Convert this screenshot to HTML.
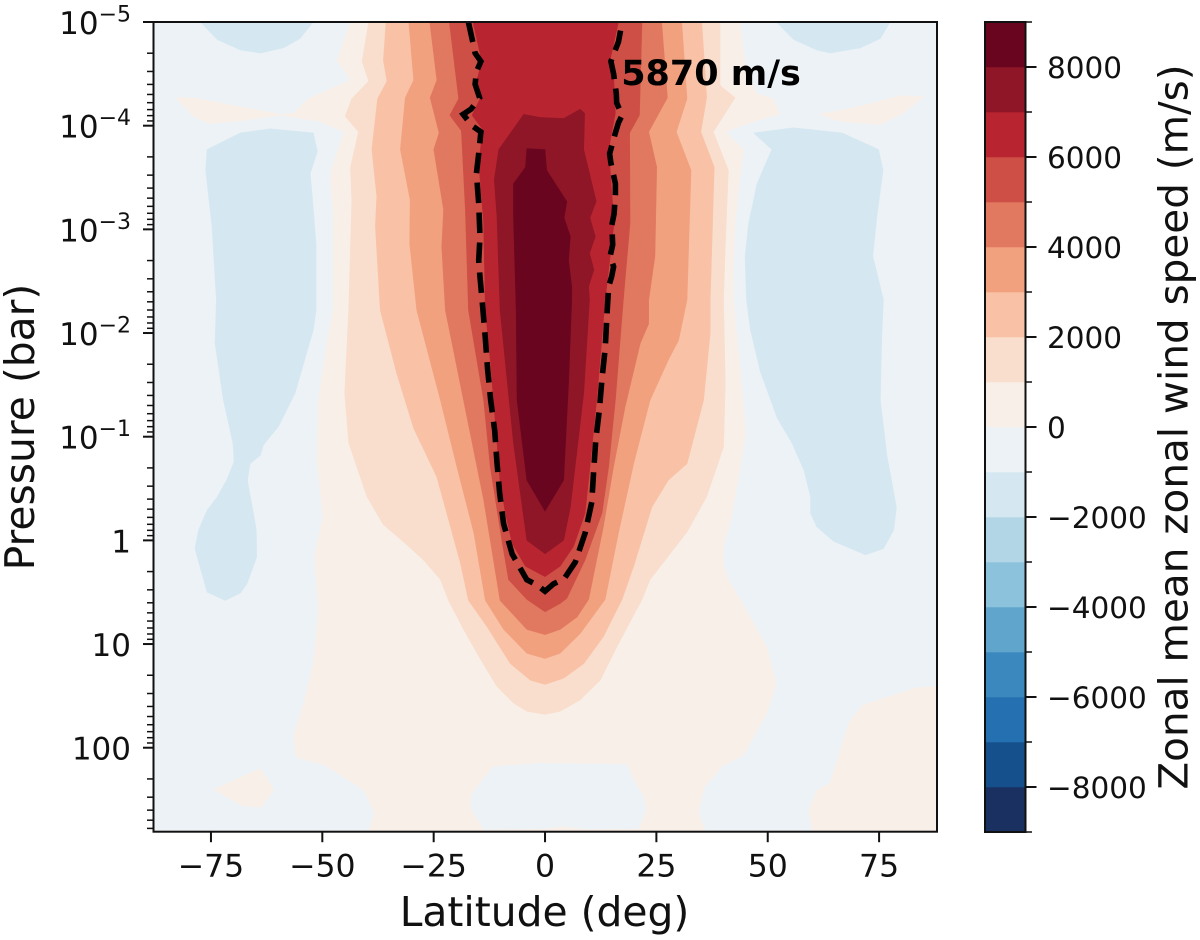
<!DOCTYPE html>
<html lang="en">
<head>
<meta charset="utf-8">
<title>Zonal mean zonal wind speed</title>
<style>
html,body{margin:0;padding:0;background:#fff;width:1200px;height:940px;overflow:hidden}
svg{display:block;font-family:"DejaVu Sans","Liberation Sans",sans-serif}
</style>
</head>
<body>
<svg id="chart" xmlns="http://www.w3.org/2000/svg" width="1200" height="940" viewBox="0 0 1200 940"></svg>
<script>
// Data: every contour vertex is [latitude in degrees, log10(pressure in bar)]
const levels = [-9000,-8000,-7000,-6000,-5000,-4000,-3000,-2000,-1000,0,1000,2000,3000,4000,5000,6000,7000,8000,9000];
const latTicks = [-75,-50,-25,0,25,50,75];
const pressureDecades = [-5,-4,-3,-2,-1,0,1,2];
const colorbarTicks = [-8000,-6000,-4000,-2000,0,2000,4000,6000,8000];
const contourLabel = "5870 m/s";
const contourLabelLat = 17.1;
const contourLabelLogP = -4.39;

const contourZero = [[-43.7,-5],[-46.7,-4.63],[-43.7,-4.44],[-53.1,-4.26],[-56.5,-4.12],[-59.5,-4.11],[-70.7,-4.20],[-78.9,-4.27],[-83,-4.27],[-78.9,-4.09],[-75.5,-4.02],[-67.7,-4.05],[-59.5,-4.10],[-50.5,-4.04],[-45.1,-3.94],[-48,-3.57],[-48.2,-3.44],[-47.6,-3.19],[-47.6,-2.22],[-49,-1.90],[-50.9,-1.35],[-51.2,-.77],[-49.9,-.23],[-51.8,.16],[-51,.58],[-50.9,.70],[-52,1.19],[-54.2,1.57],[-56.5,1.89],[-55.9,2.09],[-49.4,2.17],[-40.7,2.41],[-38.3,2.63],[-39.6,2.81],[36,2.81],[34.5,2.63],[35.6,2.39],[39.7,2.18],[44.6,2.07],[49.8,1.67],[51.9,1.38],[49.8,1.03],[43.8,.57],[41.2,.38],[40.1,.25],[40.1,.06],[41.9,-.23],[45.1,-1.03],[43.8,-1.67],[42.3,-2.32],[42.3,-2.61],[42.7,-3.06],[43.8,-3.51],[44.6,-3.77],[40.5,-3.94],[46.8,-4.04],[52.8,-4.11],[51.3,-4.26],[47.6,-4.31],[45.3,-4.50],[44.6,-4.70],[43.7,-5]];
const contourZeroTongueRight = [[61.4,-4.11],[70,-4.18],[79.8,-4.29],[85,-4.28],[80.5,-4.12],[75.3,-4.01],[66.3,-4.04]];
const contourZeroIslandLeft = [[-74.4,2.40],[-63.9,2.20],[-60.9,2.40],[-63.6,2.575],[-68.1,2.56]];
const contourZeroCornerRight = [[60,2.81],[59.2,2.60],[61,2.41],[64,2.34],[68.2,1.76],[71.2,1.59],[83.5,1.42],[88,1.41],[88,2.81]];
const neutralPatchCenter = [[-11.6,2.18],[-16.4,2.44],[-16.8,2.57],[-13.8,2.79],[0,2.78],[4.2,2.755],[8.7,2.785],[21,2.78],[22.7,2.60],[22.1,2.47],[19.5,2.28],[18.4,2.16],[-1.1,2.15]];

const contourNegTopLeft = [[-77.4,-5],[-73.6,-4.83],[-68.4,-4.73],[-63.9,-4.70],[-58.7,-4.75],[-55,-4.84],[-52,-5]];
const contourNegTopRight = [[51.9,-5],[55.8,-4.83],[61,-4.73],[64,-4.70],[70.8,-4.75],[75.3,-4.84],[77.5,-5]];
const contourNegLeft = [[-75.9,-3.77],[-68.4,-3.93],[-61.7,-3.97],[-52,-3.93],[-51.1,-3.75],[-52.7,-3.54],[-52,-3.19],[-51.4,-2.86],[-51.4,-2.22],[-52,-2.03],[-56.1,-1.42],[-59.8,-1.10],[-63.2,-.92],[-63.9,-.82],[-66.2,-.74],[-66.8,-.58],[-64.8,-.10],[-64.7,.16],[-66.9,.42],[-68.4,.51],[-71.8,.58],[-75.9,.50],[-78.6,.08],[-77.8,-.10],[-75.9,-.29],[-73.6,-.42],[-71.5,-.58],[-69.8,-.76],[-70.1,-.94],[-72.2,-1.35],[-74.1,-1.90],[-73.8,-2.32],[-74.8,-3.03],[-76.2,-3.57]];
const contourNegRight = [[46.8,-3.93],[55.8,-3.98],[66.7,-3.93],[74.9,-3.77],[75.9,-3.57],[74.5,-3.12],[73.6,-2.74],[76,-2.32],[75.6,-1.96],[75.3,-1.35],[76.8,-.81],[78.9,-.32],[78.3,-.10],[76,.08],[71.9,.14],[64.8,.01],[61,-.13],[59.6,-.26],[59.6,-.42],[58.1,-.68],[55.4,-.94],[52.1,-1.18],[48.3,-1.63],[46.1,-2.03],[45.2,-2.32],[44.9,-2.74],[45.7,-3.06],[47.6,-3.44],[50.9,-3.77]];

const contour1000 = [[-39.6,-5],[-41.1,-4.62],[-39.6,-4.43],[-43.4,-4.26],[-44.9,-4.09],[-41.9,-3.94],[-43.7,-3.60],[-43.4,-3.28],[-44.1,-2.22],[-45,-1.42],[-44.1,-.94],[-40,-.42],[-36.3,-.15],[-31,.045],[-27.3,.19],[-23.5,.38],[-21.7,.58],[-18.3,.86],[-14.6,1.14],[-10.8,1.41],[-7.1,1.57],[-4.1,1.65],[0,1.68],[3.4,1.65],[7.9,1.54],[12.4,1.35],[16.5,1.0],[21.8,.57],[23.6,.38],[31.9,-.08],[36.3,-.42],[40.1,-.90],[40.5,-1.51],[40.1,-2.32],[40.5,-2.86],[41.2,-3.57],[37.8,-3.94],[42.7,-4.27],[39.3,-4.39],[39.3,-5]];
const contour2000 = [[-35.7,-5],[-36.3,-4.63],[-35.5,-4.43],[-37.6,-4.26],[-38.9,-3.77],[-37.8,-3.32],[-38.1,-3.03],[-37,-2.22],[-33.3,-1.61],[-29.5,-1.08],[-24.3,-.61],[-19,.22],[-17.2,.58],[-13.1,.83],[-7.8,1.19],[-3.3,1.35],[0,1.39],[4.2,1.33],[8.7,1.19],[13.1,.93],[17.3,.57],[19.9,.25],[24,-.32],[27.7,-.58],[31.9,-.74],[35.6,-1.35],[37.1,-2.0],[37.1,-2.32],[38,-3.60],[35,-3.94],[36.3,-4.27],[35.2,-5]];
const contour3000 = [[-30.6,-5],[-29.5,-4.44],[-31.4,-4.27],[-32.5,-3.77],[-30.3,-3.28],[-30.4,-2.86],[-28.8,-2.22],[-23.5,-1.35],[-19.8,-.71],[-16,-.07],[-13.4,.58],[-9.3,.86],[-4.1,1.09],[0,1.14],[3.4,1.09],[7.9,.90],[13.5,.57],[16.5,-.07],[19.9,-.74],[23.6,-1.35],[27.7,-1.74],[30,-1.93],[31.9,-2.32],[32.8,-3.57],[29.5,-3.94],[31.9,-4.26],[30.7,-5]];
const contour4000 = [[-25.9,-5],[-24.3,-4.44],[-25.8,-4.27],[-23.8,-3.93],[-25,-3.77],[-22.8,-3.19],[-23.2,-2.83],[-22.4,-2.22],[-18.3,-1.35],[-13.8,-.39],[-10.1,.58],[-4.1,.86],[0,.91],[3.4,.86],[7.2,.74],[9.8,.57],[13.1,-.13],[15.4,-.71],[18,-1.29],[21.4,-1.90],[23.3,-2.09],[23.3,-2.32],[24.7,-2.74],[25.1,-3.60],[23.3,-3.94],[27.5,-4.27],[26.2,-5]];
const contour5000 = [[-21.5,-5],[-19.4,-4.26],[-21.4,-4.10],[-18.8,-3.95],[-17.9,-3.19],[-17.2,-2.22],[-13.8,-1.35],[-12.3,-.71],[-9.7,0],[-8.2,.38],[-4.1,.57],[0,.69],[3.4,.61],[4.9,.56],[9,.19],[12.8,-.26],[14.3,-.71],[15.8,-1.35],[17.6,-2.32],[19.1,-3.06],[19,-3.93],[21.2,-4.10],[21.8,-5]];
const contour6000 = [[-16.2,-5],[-14.2,-4.62],[-15.3,-4.44],[-14.6,-4.26],[-16.4,-4.10],[-14,-3.96],[-14.9,-3.64],[-13.8,-3.06],[-13.4,-2.22],[-12.3,-1.74],[-11.2,-1.16],[-10.1,-.57],[-8.9,-.26],[-7.4,.03],[-4.4,.25],[0,.35],[3.4,.25],[6.4,.06],[9,-.26],[10.1,-.71],[11.6,-1.35],[13.5,-2.32],[15.5,-3.06],[14.3,-3.77],[15.8,-4.12],[15.4,-4.50],[14.6,-4.63],[16.5,-5]];
const contour7000 = [[-4.8,-4.11],[-10.4,-3.77],[-11.4,-3.48],[-10.8,-3.12],[-10.1,-2.22],[-7.1,-.94],[-4.1,0],[0,.13],[4.2,0],[5.7,-.32],[8.7,-1.42],[10,-2.32],[9.8,-2.45],[11,-2.61],[10,-2.77],[11.3,-2.93],[10.1,-3.11],[11.5,-3.27],[8.7,-3.77],[8.9,-4.12],[7.9,-4.16],[4.2,-4.07],[-1.1,-4.08]];
const contour8000 = [[-4.1,-3.78],[-4.4,-3.60],[-7.1,-3.44],[-7.1,-3.12],[-6.5,-2.22],[-6.3,-1.35],[-4.1,-.58],[0,-.28],[4.2,-.58],[5.3,-1.51],[6,-2.32],[6,-2.45],[5.3,-2.70],[5.7,-2.93],[4.3,-3.11],[4.9,-3.27],[.4,-3.57],[0,-3.77]];
const contour5870Line = [[-17.2,-5],[-16.2,-4.80],[-15.7,-4.70],[-14.4,-4.62],[-15.4,-4.52],[-15.7,-4.40],[-14.7,-4.27],[-16.6,-4.16],[-18.4,-4.11],[-16.4,-4.0],[-14.4,-3.94],[-14.9,-3.73],[-15.4,-3.54],[-14.9,-3.25],[-14.6,-2.93],[-14.9,-2.70],[-14.6,-2.54],[-14,-2.25],[-13.4,-1.95],[-12.9,-1.65],[-12.2,-1.35],[-11.3,-1.06],[-10.8,-.76],[-10.2,-.46],[-9.3,-.16],[-7.4,.13],[-4.1,.38],[-1.8,.43],[0,.49],[1.9,.42],[4.3,.37],[6.8,.21],[9,-.07],[10.5,-.37],[10.9,-.66],[11.4,-.97],[12.2,-1.26],[12.8,-1.56],[13.5,-1.85],[13.9,-2.16],[14,-2.25],[14.3,-2.45],[15,-2.55],[15.4,-2.64],[14.6,-2.74],[15.2,-2.85],[15,-3.04],[15.5,-3.15],[15.8,-3.34],[15.8,-3.44],[14.8,-3.64],[14.5,-3.73],[15.8,-3.93],[16.5,-4.03],[17.3,-4.10],[16.1,-4.22],[16,-4.31],[15.4,-4.50],[14.8,-4.62],[16.5,-4.81],[17.3,-5]];

// Colours (one per band between consecutive levels, lowest first)
const bandColors = ["#1a3060","#15508d","#2470b0","#3b88be","#5fa5cc","#8dc2dc","#b3d6e7","#d5e7f1","#ecf2f5","#f9efe9","#f9decd","#f9c2a7","#f2a17f","#e17960","#ce4f45","#b82531","#8f1626","#6a0520"];

// Axis functions
const plotLeft = 153.5, plotRight = 937, plotTop = 22, plotBottom = 831.7;
const latMin = -87.9, latMax = 88, logPMin = -5, logPMax = 2.81;
function xScale(lat){ return plotLeft + (lat - latMin) / (latMax - latMin) * (plotRight - plotLeft); }
function yScale(logP){ return plotTop + (logP - logPMin) / (logPMax - logPMin) * (plotBottom - plotTop); }
const cbarLeft = 985, cbarRight = 1025.5, cbarTop = 22, cbarBottom = 832;
function cbarScale(v){ return cbarBottom - (v - levels[0]) / (levels[levels.length-1] - levels[0]) * (cbarBottom - cbarTop); }
function bandColor(level){ return bandColors[levels.indexOf(level)]; }

const SVGNS = "http://www.w3.org/2000/svg";
const svg = document.getElementById("chart");
function make(tag, attrs, parent){
  const el = document.createElementNS(SVGNS, tag);
  for (const k in attrs) el.setAttribute(k, attrs[k]);
  (parent || svg).appendChild(el);
  return el;
}
function pointsAttr(pts){ return pts.map(p => xScale(p[0]).toFixed(1) + "," + yScale(p[1]).toFixed(1)).join(" "); }

const defs = make("defs", {});
const clip = make("clipPath", {id:"plot-clip"}, defs);
make("rect", {x:plotLeft, y:plotTop, width:plotRight-plotLeft, height:plotBottom-plotTop}, clip);

const plot = make("g", {"clip-path":"url(#plot-clip)"});



const plotBackground = make("rect", {x:plotLeft, y:plotTop, width:plotRight-plotLeft, height:plotBottom-plotTop, fill:bandColor(-1000)}, plot);



function drawBand(points, level){
  const c = bandColor(level);
  const poly = make("polygon", {points:pointsAttr(points), fill:c, stroke:c, "stroke-width":0.4}, plot);
  
  
}
drawBand(contourZero, 0);
drawBand(contourZeroTongueRight, 0);
drawBand(contourZeroIslandLeft, 0);
drawBand(contourZeroCornerRight, 0);
drawBand(neutralPatchCenter, -1000);
drawBand(contourNegTopLeft, -2000);
drawBand(contourNegTopRight, -2000);
drawBand(contourNegLeft, -2000);
drawBand(contourNegRight, -2000);
drawBand(contour1000, 1000);
drawBand(contour2000, 2000);
drawBand(contour3000, 3000);
drawBand(contour4000, 4000);
drawBand(contour5000, 5000);
drawBand(contour6000, 6000);
drawBand(contour7000, 7000);
drawBand(contour8000, 8000);

const dashed = make("polyline", {points:pointsAttr(contour5870Line), fill:"none", stroke:"#000", "stroke-width":5.6, "stroke-dasharray":"20.5 9.5", "stroke-linejoin":"miter"}, plot);



const frame = make("rect", {x:plotLeft, y:plotTop, width:plotRight-plotLeft, height:plotBottom-plotTop, fill:"none", stroke:"#111", "stroke-width":2});



const annotation = make("text", {x:xScale(contourLabelLat), y:yScale(contourLabelLogP), "font-size":35, "font-weight":"bold", fill:"#000"});
annotation.textContent = contourLabel;



// X axis
latTicks.forEach(function(t){
  const x = xScale(t);
  const tick = make("line", {x1:x, x2:x, y1:plotBottom, y2:plotBottom+10.5, stroke:"#111", "stroke-width":2});
  
  
  const lab = make("text", {x:x, y:876.5, "text-anchor":"middle", "font-size":31.5, fill:"#111"});
  lab.textContent = String(t).replace("-", "\u2212");
  
  
});

// Y axis
const minorMultipliers = [2,3,4,5,6,7,8,9];
pressureDecades.forEach(function(d){
  const y = yScale(d);
  const tick = make("line", {x1:plotLeft-10.5, x2:plotLeft, y1:y, y2:y, stroke:"#111", "stroke-width":2});
  
  
  const lab = make("text", {x:131, y:y+12, "text-anchor":"end", "font-size":31, fill:"#111"});
  if (d < 0) {
    lab.appendChild(document.createTextNode("10"));
    const sup = make("tspan", {dy:-12.5, "font-size":22}, lab);
    sup.textContent = "\u2212" + Math.abs(d);
  } else {
    lab.textContent = String(Math.pow(10, d));
  }
  
  
  minorMultipliers.forEach(function(m){
    const lp = d + Math.log10(m);
    if (lp > logPMax) return;
    const my = yScale(lp);
    const minor = make("line", {x1:plotLeft-6.5, x2:plotLeft, y1:my, y2:my, stroke:"#111", "stroke-width":1.5});
    
    
  });
});

const xTitle = make("text", {x:544.5, y:926, "text-anchor":"middle", "font-size":40.8, fill:"#111"});
xTitle.textContent = "Latitude (deg)";



const yTitle = make("text", {x:0, y:0, "text-anchor":"middle", "font-size":40.8, fill:"#111", transform:"translate(34,427) rotate(-90)"});
yTitle.textContent = "Pressure (bar)";



// Colorbar
for (let i = 0; i < levels.length - 1; i++) {
  const y1 = cbarScale(levels[i+1]), y2 = cbarScale(levels[i]);
  const seg = make("rect", {x:cbarLeft, y:y1, width:cbarRight-cbarLeft, height:y2-y1+0.3, fill:bandColors[i]});
  
  
}
const cbarFrame = make("rect", {x:cbarLeft, y:cbarTop, width:cbarRight-cbarLeft, height:cbarBottom-cbarTop, fill:"none", stroke:"#111", "stroke-width":2});


levels.forEach(function(v){
  const y = cbarScale(v);
  const major = colorbarTicks.indexOf(v) >= 0;
  const tick = make("line", {x1:cbarRight, x2:cbarRight+(major?11:6.5), y1:y, y2:y, stroke:"#111", "stroke-width":major?2:1.5});
  
  
});
colorbarTicks.forEach(function(v){
  const lab = make("text", {x:1047, y:cbarScale(v)+11, "font-size":29.5, fill:"#111"});
  lab.textContent = String(v).replace("-", "\u2212");
  
  
});
const cbarTitle = make("text", {x:0, y:0, "text-anchor":"middle", "font-size":40.5, fill:"#111", transform:"translate(1187.5,427) rotate(-90)"});
cbarTitle.textContent = "Zonal mean zonal wind speed (m/s)";


</script>
</body>
</html>
